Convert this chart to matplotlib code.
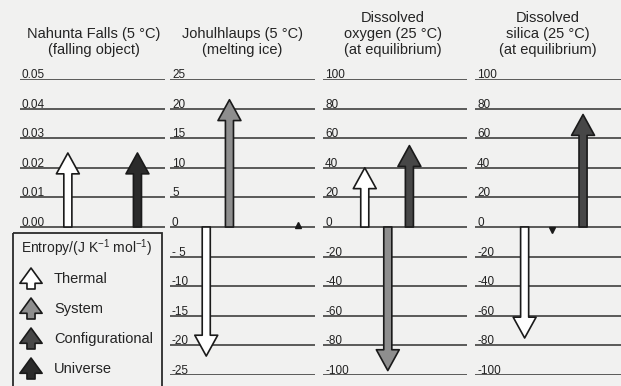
import matplotlib
matplotlib.use("Agg")
import matplotlib.pyplot as plt
from matplotlib.patches import FancyArrowPatch, Rectangle
import matplotlib.transforms as mtransforms

plt.rcParams["font.family"] = "Liberation Sans"
plt.rcParams["mathtext.fontset"] = "custom"
plt.rcParams["mathtext.rm"] = "Liberation Sans"
plt.rcParams["mathtext.it"] = "Liberation Sans:italic"

# ---- data ----
titles = ["Nahunta Falls (5 °C)\n(falling object)",
          "Johulhlaups (5 °C)\n(melting ice)",
          "Dissolved\noxygen (25 °C)\n(at equilibrium)",
          "Dissolved\nsilica (25 °C)\n(at equilibrium)"]

ticks_falls = [0.00, 0.01, 0.02, 0.03, 0.04, 0.05]
labels_falls = ["0.00", "0.01", "0.02", "0.03", "0.04", "0.05"]
ticks_ice = [-25, -20, -15, -10, -5, 0, 5, 10, 15, 20, 25]
labels_ice = ["-25", "-20", "-15", "-10", "- 5", "0", "5", "10", "15", "20", "25"]
ticks_solute = [-100, -80, -60, -40, -20, 0, 20, 40, 60, 80, 100]
labels_solute = ["-100", "-80", "-60", "-40", "-20", "0", "20", "40", "60", "80", "100"]

# entropy changes, J K-1 mol-1 (None = not drawn)
thermal = [0.025, -21.8, 40, -75]
system = [None, 21.5, -97, None]
configurational = [None, None, 55, 76]
universe = [0.025, 0.4, None, -2]

legend_names = ["Thermal", "System", "Configurational", "Universe"]
colors = {"Thermal": "white", "System": "#8e8e8e",
          "Configurational": "#474747", "Universe": "#2b2b2b"}

# ---- layout (pixels) ----
W, H = 621, 386
panel_x = [(20, 165), (170, 315), (323, 467), (475, 621)]
y_top, y_bot = 79, 375
title_x = [94, 242, 393, 548]
arrow_x = [  # thermal, system, configurational, universe (axes fraction)
    (0.33, None, None, 0.81),
    (0.25, 0.41, None, 0.88),
    (0.29, 0.45, 0.60, None),
    (0.34, None, 0.74, 0.53),
]
panel_ticks = [(ticks_falls, labels_falls, 0.05), (ticks_ice, labels_ice, 25),
               (ticks_solute, labels_solute, 100), (ticks_solute, labels_solute, 100)]

fig = plt.figure(figsize=(W / 100, H / 100), dpi=100)
fig.patch.set_facecolor("#f1f1f0")

line_c = "#303030"
edge_c = "#1a1a1a"
style = "simple,head_length=15,head_width=16.5,tail_width=5.8"


def draw_arrow(ax, x, v, name):
    ax.add_patch(FancyArrowPatch((x, 0), (x, v), arrowstyle=style, mutation_scale=1,
                                 shrinkA=0, shrinkB=0, fc=colors[name], ec=edge_c,
                                 lw=1.2, clip_on=False, zorder=3))


for i in range(4):
    x0, x1 = panel_x[i]
    ax = fig.add_axes([x0 / W, (H - y_bot) / H, (x1 - x0) / W, (y_bot - y_top) / H])
    ax.set_axis_off()
    ticks, labels, top = panel_ticks[i]
    ax.set_xlim(0, 1)
    ax.set_ylim(-top, top)
    off = mtransforms.offset_copy(ax.transData, fig=fig, x=2, y=1, units="dots")
    for t, lab in zip(ticks, labels):
        ax.axhline(t, color=line_c, lw=1.1, zorder=1)
        ax.text(0, t, lab, transform=off, fontsize=8.5, ha="left", va="baseline",
                color="#222222")
    series = [thermal[i], system[i], configurational[i], universe[i]]
    for name, v, x in zip(legend_names, series, arrow_x[i]):
        if v is None or x is None:
            continue
        if abs(v) < 0.05 * top:
            ax.plot([x], [v], marker="^" if v > 0 else "v", ms=5, color="#1a1a1a",
                    clip_on=False, zorder=3)
        else:
            draw_arrow(ax, x, v, name)

# overlay in pixel coordinates for titles and legend box
ov = fig.add_axes([0, 0, 1, 1])
ov.set_xlim(0, W)
ov.set_ylim(H, 0)
ov.set_axis_off()
ov.patch.set_alpha(0)

for i, t in enumerate(titles):
    ov.text(title_x[i], 57, t, ha="center", va="bottom", fontsize=10.5,
            linespacing=1.2, color="#242424")

ov.add_patch(Rectangle((13, 233), 149, 170, fill=False, ec="#2a2a2a", lw=1.3,
                       clip_on=False))
ov.text(21, 248, "Entropy/(J K$^{-1}$ mol$^{-1}$)", fontsize=10, va="center",
        ha="left", color="#242424")
leg_y = [279, 309, 339, 369]
for name, y in zip(legend_names, leg_y):
    ov.add_patch(FancyArrowPatch((31, y + 10), (31, y - 11),
                                 arrowstyle="simple,head_length=11,head_width=16,tail_width=5.8",
                                 mutation_scale=1, shrinkA=0, shrinkB=0,
                                 fc=colors[name], ec=edge_c, lw=1.2, clip_on=False))
    ov.text(54, y, name, fontsize=10.5, va="center", ha="left", color="#242424")

fig.savefig("out.png", dpi=100, facecolor=fig.get_facecolor())
